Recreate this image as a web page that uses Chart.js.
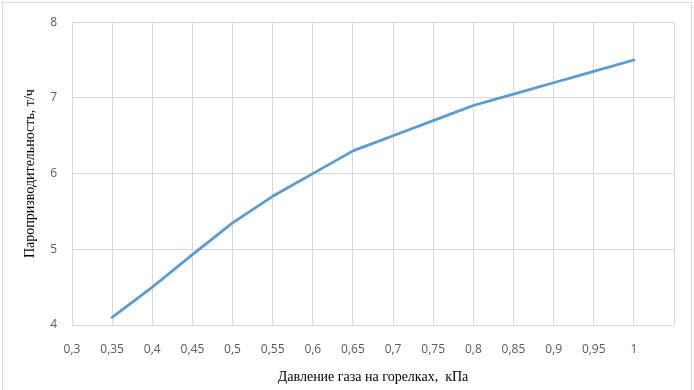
<!DOCTYPE html>
<html>
<head>
<meta charset="utf-8">
<script src="https://cdn.jsdelivr.net/npm/chart.js@4.4.1/dist/chart.umd.min.js"></script>
<style>
  html, body { margin: 0; padding: 0; background: #fff; }
  #wrap { width: 694px; height: 390px; position: relative; }
</style>
</head>
<body>
<div id="wrap"><canvas id="steamChart"></canvas></div>
<script>
// x categories (gas pressure, kPa); last slot is empty, as on the original axis
const pressureLabels = ['0,3', '0,35', '0,4', '0,45', '0,5', '0,55', '0,6', '0,65', '0,7', '0,75', '0,8', '0,85', '0,9', '0,95', '1', ''];
// steam output, t/h
const steamOutput = [null, 4.1, 4.5, 4.93, 5.35, 5.7, 6.0, 6.3, 6.5, 6.7, 6.9, 7.05, 7.2, 7.35, 7.5, null];
const yTicks = [4, 5, 6, 7, 8];

const frameBorder = {
    id: 'frameBorder',
    beforeDraw(chart) {
        const c = chart.ctx;
        c.save();
        c.strokeStyle = '#d9d9d9';
        c.lineWidth = 1;
        c.strokeRect(2.5, 2.5, 689, 400);
        c.restore();
    }
};

document.addEventListener('DOMContentLoaded', function() {
    const ctx = document.getElementById('steamChart').getContext('2d');

    new Chart(ctx, {
        type: 'line',
        data: {
            labels: pressureLabels,
            datasets: [{
                label: '',
                data: steamOutput,
                borderColor: '#5b9bd5',
                borderWidth: 2.75,
                borderCapStyle: 'round',
                borderJoinStyle: 'round',
                pointRadius: 0,
                fill: false,
                tension: 0
            }]
        },
        options: {
            responsive: true,
            maintainAspectRatio: false,
            animation: false,
            layout: {
                padding: { left: 0, right: 20, top: 20, bottom: 0 }
            },
            plugins: {
                legend: { display: false },
                tooltip: { enabled: false }
            },
            scales: {
                y: {
                    min: 4,
                    max: 8,
                    afterFit: function(scale) { scale.width = 72; },
                    afterBuildTicks: function(scale) {
                        scale.ticks = yTicks.map(v => ({ value: v }));
                    },
                    border: { display: false },
                    grid: {
                        color: '#d9d9d9',
                        drawTicks: false
                    },
                    ticks: {
                        padding: 15,
                        color: '#595959',
                        font: { family: '"Open Sans", sans-serif', size: 12 }
                    },
                    title: {
                        display: true,
                        text: 'Паропризводительность, т/ч',
                        color: '#000',
                        padding: { top: 22, bottom: 0 },
                        font: { family: '"Liberation Serif", serif', size: 14 }
                    }
                },
                x: {
                    offset: false,
                    afterFit: function(scale) { scale.height = 65; },
                    border: { display: false },
                    grid: {
                        color: '#d9d9d9',
                        drawTicks: false
                    },
                    ticks: {
                        padding: 17,
                        maxRotation: 0,
                        autoSkip: false,
                        color: '#595959',
                        font: { family: '"Open Sans", sans-serif', size: 12 }
                    },
                    title: {
                        display: true,
                        text: 'Давление газа на горелках,  кПа',
                        color: '#000',
                        padding: { top: 0, bottom: 4 },
                        font: { family: '"Liberation Serif", serif', size: 14 }
                    }
                }
            }
        },
        plugins: [frameBorder]
    });
});
</script>
</body>
</html>
